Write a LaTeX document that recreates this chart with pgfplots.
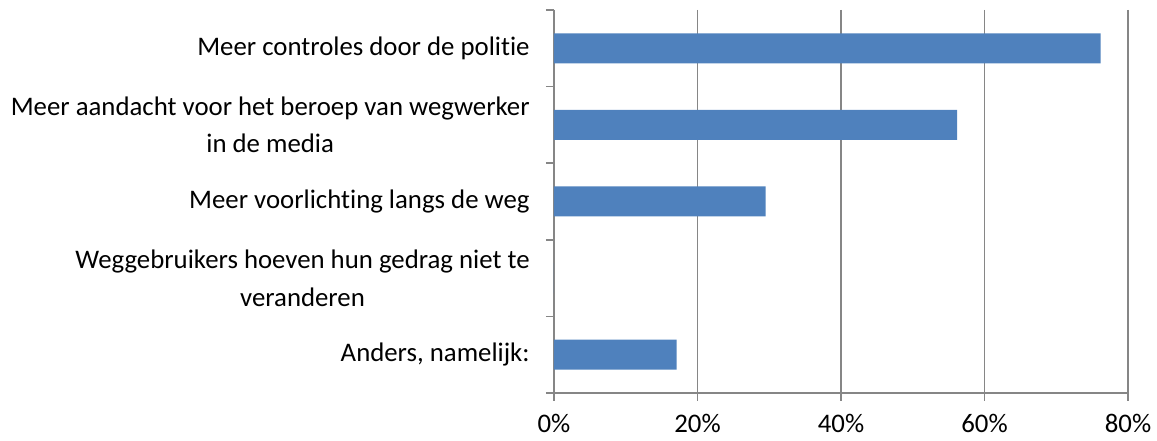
\documentclass[border=0pt]{standalone}
\usepackage{fontspec}
\setmainfont{Carlito}[Ligatures=NoCommon]
\usepackage{pgfplots}
\pgfplotsset{compat=1.18}

\definecolor{barblue}{HTML}{4F81BD}
\definecolor{axgray}{HTML}{868686}

\begin{document}
\fontsize{13.4}{18.75}\selectfont
\begin{tikzpicture}
\begin{axis}[
  name=ax,
  xbar,
  width=287pt, height=191.5pt,
  scale only axis,
  xmin=0, xmax=80,
  ymin=-0.5, ymax=4.5,
  y dir=reverse,
  axis x line*=bottom, axis y line*=left,
  axis line style={axgray, line width=0.8pt},
  xtick={0,20,40,60,80},
  minor xtick={0,20,40,60,80},
  xticklabel={\pgfmathprintnumber{\tick}\%},
  /pgf/number format/assume math mode=true,
  xmajorgrids,
  grid style={axgray, line width=0.9pt},
  tick align=outside,
  major tick length=0pt,
  minor tick length=4pt,
  tick style={axgray, line width=0.8pt},
  xticklabel style={font=\fontsize{13.4}{18.75}\selectfont, inner sep=0pt, yshift=-10.5pt},
  ytick={0,1,2,3,4},
  minor ytick={-0.5,0.5,1.5,2.5,3.5,4.5},
  yticklabels={
    Meer controles door de politie,
    {Meer aandacht voor het beroep van wegwerker\\in de media},
    Meer voorlichting langs de weg,
    {Weggebruikers hoeven hun gedrag niet te\\veranderen},
    {Anders, namelijk:}},
  yticklabel style={font=\fontsize{13.4}{18.75}\selectfont, align=center, inner sep=0pt, xshift=-12pt},
  bar width=15pt,
  clip=false,
]
\addplot[fill=barblue, draw=none] coordinates {
(76.2,0) (56.2,1) (29.5,2) (0,3) (17.1,4)
};
\end{axis}
\path ([xshift=-277pt, yshift=5pt]ax.north west) rectangle ([xshift=301.5pt, yshift=-24pt]ax.south west);
\end{tikzpicture}
\end{document}
